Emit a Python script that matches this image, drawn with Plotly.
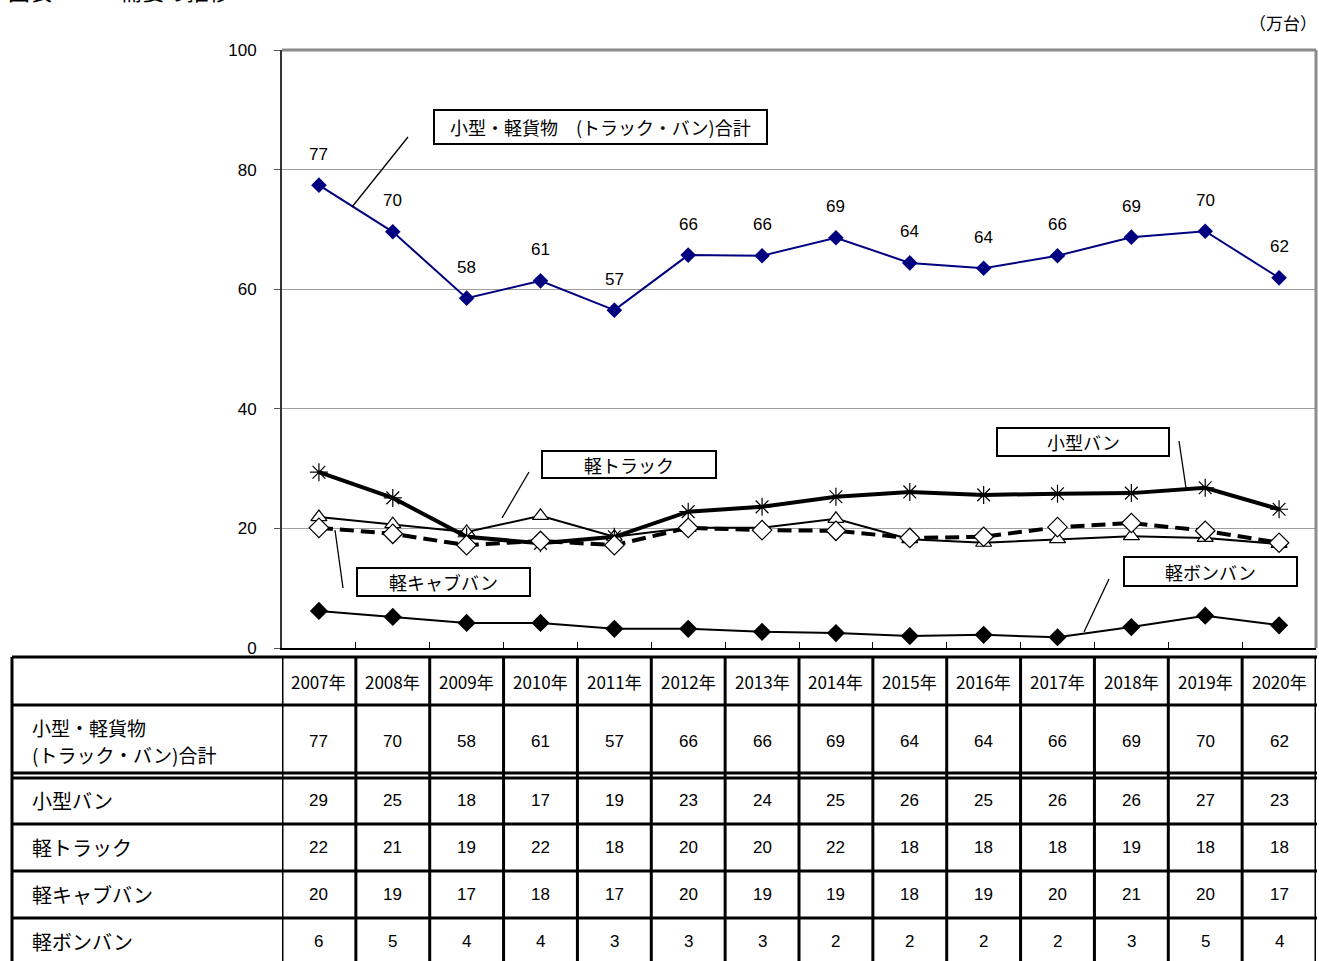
import plotly.graph_objects as go

# ---------------- data ----------------
years = ["2007年", "2008年", "2009年", "2010年", "2011年", "2012年", "2013年",
         "2014年", "2015年", "2016年", "2017年", "2018年", "2019年", "2020年"]

# values plotted (unrounded)
total_plot = [77.4, 69.6, 58.5, 61.4, 56.5, 65.7, 65.6, 68.6, 64.4, 63.5, 65.6, 68.7, 69.7, 61.9]
kogata_van_plot = [29.4, 25.1, 18.6, 17.5, 18.6, 22.8, 23.6, 25.3, 26.1, 25.6, 25.8, 25.9, 26.8, 23.2]
kei_truck_plot = [21.9, 20.7, 19.4, 22.1, 18.6, 20.1, 20.1, 21.6, 18.2, 17.6, 18.2, 18.7, 18.4, 17.4]
kei_cab_plot = [20.1, 19.1, 17.2, 17.9, 17.2, 20.1, 19.7, 19.6, 18.4, 18.6, 20.2, 20.9, 19.6, 17.6]
kei_bon_plot = [6.2, 5.2, 4.2, 4.2, 3.2, 3.2, 2.7, 2.5, 2.0, 2.2, 1.8, 3.5, 5.4, 3.8]

# values shown in the table (rounded)
total_tbl = [77, 70, 58, 61, 57, 66, 66, 69, 64, 64, 66, 69, 70, 62]
kogata_van_tbl = [29, 25, 18, 17, 19, 23, 24, 25, 26, 25, 26, 26, 27, 23]
kei_truck_tbl = [22, 21, 19, 22, 18, 20, 20, 22, 18, 18, 18, 19, 18, 18]
kei_cab_tbl = [20, 19, 17, 18, 17, 20, 19, 19, 18, 19, 20, 21, 20, 17]
kei_bon_tbl = [6, 5, 4, 4, 3, 3, 3, 2, 2, 2, 2, 3, 5, 4]

row_labels = [["小型・軽貨物", "(トラック・バン)合計"], ["小型バン"], ["軽トラック"], ["軽キャブバン"], ["軽ボンバン"]]
y_ticks = [0, 20, 40, 60, 80, 100]

# ---------------- layout helpers ----------------
W, H = 1319, 961
L, R, T, B = 282, 1316, 50, 648
JP = "Noto Sans CJK JP"
NUM = "Liberation Sans"


def px(xp):
    return (xp - L) / (R - L)


def py(yp):
    return (B - yp) / (B - T)


fig = go.Figure()

# ---------------- series ----------------
fig.add_trace(go.Scatter(
    x=years, y=total_plot, mode="lines+markers", name="合計",
    line=dict(color="#000080", width=2),
    marker=dict(symbol="diamond", size=12, color="#000080")))
fig.add_trace(go.Scatter(
    x=years, y=kei_bon_plot, mode="lines+markers", name="軽ボンバン",
    line=dict(color="black", width=2),
    marker=dict(symbol="diamond", size=14, color="black")))
fig.add_trace(go.Scatter(
    x=years, y=kei_truck_plot, mode="lines+markers", name="軽トラック",
    line=dict(color="black", width=2),
    marker=dict(symbol="triangle-up", size=14, color="white",
                line=dict(color="black", width=1.2))))
fig.add_trace(go.Scatter(
    x=years, y=kogata_van_plot, mode="lines+markers", name="小型バン",
    line=dict(color="black", width=4),
    marker=dict(symbol="asterisk-open", size=15, color="black",
                line=dict(color="black", width=1.2))))
fig.add_trace(go.Scatter(
    x=years, y=kei_cab_plot, mode="lines+markers", name="軽キャブバン",
    line=dict(color="black", width=4, dash="14px,7px"),
    marker=dict(symbol="diamond", size=15, color="white",
                line=dict(color="black", width=1.2))))

annotations = []
shapes = []

# data labels for total
for yr, v, t in zip(years, total_plot, total_tbl):
    annotations.append(dict(x=yr, y=v, xref="x", yref="y", text=str(t),
                            showarrow=False, yshift=31, yanchor="middle",
                            font=dict(family=NUM, size=17, color="black")))

# plot frame (gray) top/right
shapes.append(dict(type="line", xref="paper", yref="paper", x0=0, x1=1, y0=1, y1=1,
                   line=dict(color="#8c8c8c", width=3)))
shapes.append(dict(type="line", xref="paper", yref="paper", x0=1, x1=1, y0=0, y1=1,
                   line=dict(color="#8c8c8c", width=3)))

# ---------------- callouts ----------------
callouts = [
    ("小型・軽貨物　(トラック・バン)合計", (434, 110, 767, 144), (352, 207, 408, 137), 18),
    ("軽トラック", (542, 451, 716, 478), (502, 518, 529, 472), 18),
    ("小型バン", (997, 428, 1169, 456), (1179, 441, 1186, 488), 18),
    ("軽キャブバン", (357, 568, 530, 596), (335, 530, 343, 588), 18),
    ("軽ボンバン", (1124, 557, 1297, 586), (1109, 579, 1084, 632), 18),
]
for text, (x0, y0, x1, y1), (lx0, ly0, lx1, ly1), fs in callouts:
    shapes.append(dict(type="line", xref="paper", yref="paper",
                       x0=px(lx0), y0=py(ly0), x1=px(lx1), y1=py(ly1),
                       line=dict(color="black", width=1.3)))
    shapes.append(dict(type="rect", xref="paper", yref="paper",
                       x0=px(x0), y0=py(y0), x1=px(x1), y1=py(y1),
                       fillcolor="white", line=dict(color="black", width=2)))
    annotations.append(dict(x=px((x0 + x1) / 2), y=py((y0 + y1) / 2), xref="paper", yref="paper",
                            text=text, showarrow=False, xanchor="center", yanchor="middle",
                            font=dict(family=JP, size=fs, color="black")))

# ---------------- table ----------------
TL, TR = 12, 1317
row_lines = [657, 705, 773, 778, 824, 871, 918, 966]
for yl in row_lines:
    shapes.append(dict(type="line", xref="paper", yref="paper",
                       x0=px(TL), x1=px(TR), y0=py(yl), y1=py(yl),
                       line=dict(color="black", width=3)))
n = len(years)
shapes.append(dict(type="line", xref="paper", yref="paper",
                   x0=px(TL), x1=px(TL), y0=py(657), y1=py(970),
                   line=dict(color="black", width=3)))
for i in range(n + 1):
    shapes.append(dict(type="line", xref="x", yref="paper",
                       x0=i - 0.5, x1=i - 0.5, y0=py(657), y1=py(970),
                       line=dict(color="black", width=3)))

header_y = 681
row_centers = [741, 800, 847, 894, 942]
table_rows = [total_tbl, kogata_van_tbl, kei_truck_tbl, kei_cab_tbl, kei_bon_tbl]

for yr in years:
    annotations.append(dict(x=yr, y=py(header_y), xref="x", yref="paper", text=yr,
                            showarrow=False, yanchor="middle",
                            font=dict(family=JP, size=17, color="black")))
for lines, yc, vals in zip(row_labels, row_centers, table_rows):
    k = len(lines)
    for j, ln in enumerate(lines):
        yl = yc + (j - (k - 1) / 2) * 27
        annotations.append(dict(x=px(31), y=py(yl), xref="paper", yref="paper", text=ln,
                                showarrow=False, xanchor="left", yanchor="middle", align="left",
                                borderpad=0,
                                font=dict(family=JP, size=20 if k == 1 else 19, color="black")))
    for yr, v in zip(years, vals):
        annotations.append(dict(x=yr, y=py(yc), xref="x", yref="paper", text=str(v),
                                showarrow=False, yanchor="middle",
                                font=dict(family=NUM, size=17, color="black")))

# title (cut off) and unit
annotations.append(dict(x=px(6), y=py(8), xref="paper", yref="paper",
                        text="図表2－7　需要の推移", showarrow=False,
                        xanchor="left", yanchor="bottom",
                        font=dict(family=JP, size=22, color="black")))
annotations.append(dict(x=px(1319), y=py(23), xref="paper", yref="paper",
                        text="（万台）", showarrow=False,
                        xanchor="right", yanchor="middle",
                        font=dict(family=JP, size=17, color="black")))

fig.update_layout(
    width=W, height=H,
    margin=dict(l=L, r=W - R, t=T, b=H - B, pad=0),
    paper_bgcolor="white", plot_bgcolor="white",
    showlegend=False,
    annotations=annotations, shapes=shapes,
    xaxis=dict(type="category", categoryorder="array", categoryarray=years,
               range=[-0.5, n - 0.5], showticklabels=False,
               tickson="boundaries", ticks="inside", ticklen=6, tickcolor="black",
               showline=True, linecolor="black", linewidth=2,
               showgrid=False, zeroline=False, fixedrange=True),
    yaxis=dict(range=[0, 100], tickvals=y_ticks, ticktext=[str(v) for v in y_ticks],
               ticks="outside", ticklen=6, tickcolor="#555",
               showline=True, linecolor="#333", linewidth=2,
               showgrid=True, gridcolor="#a0a0a0", gridwidth=1,
               zeroline=False, ticklabelstandoff=14,
               tickfont=dict(family=NUM, size=17, color="black")),
)

fig.write_html("out.html")
